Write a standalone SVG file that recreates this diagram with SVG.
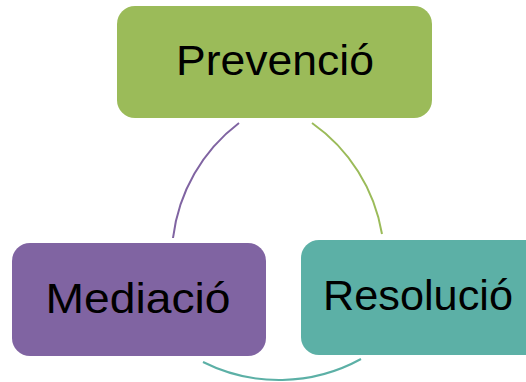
<svg xmlns="http://www.w3.org/2000/svg" width="526" height="382" viewBox="0 0 526 382">
<style>
.lbl{font-family:"Liberation Sans","Open Sans",sans-serif;font-size:43px;fill:#000;text-anchor:middle}
.arc{fill:none;stroke-width:2}
</style>
<rect width="526" height="382" fill="#fff"/>
<g id="connectors">
<path class="arc" stroke="#8064A2" d="M239 123 A170 170 0 0 0 173 238"/>
<path class="arc" stroke="#9BBB59" d="M312 123 A170 170 0 0 1 382 234"/>
<path class="arc" stroke="#5CB0A6" d="M203 362 A170 170 0 0 0 361 359"/>
</g>
<g id="prevencio">
<rect x="117" y="6" width="315" height="112" rx="18" fill="#9BBB59"/>
<text class="lbl" x="275" y="75" textLength="198" lengthAdjust="spacingAndGlyphs">Prevenció</text>
</g>
<g id="mediacio">
<rect x="12" y="243" width="254" height="113" rx="18" fill="#8064A2"/>
<text class="lbl" x="138" y="313" textLength="185" lengthAdjust="spacingAndGlyphs">Mediació</text>
</g>
<g id="resolucio">
<rect x="301" y="240" width="245" height="115" rx="18" fill="#5CB0A6"/>
<text class="lbl" x="418" y="310" textLength="190" lengthAdjust="spacingAndGlyphs">Resolució</text>
</g>
</svg>
